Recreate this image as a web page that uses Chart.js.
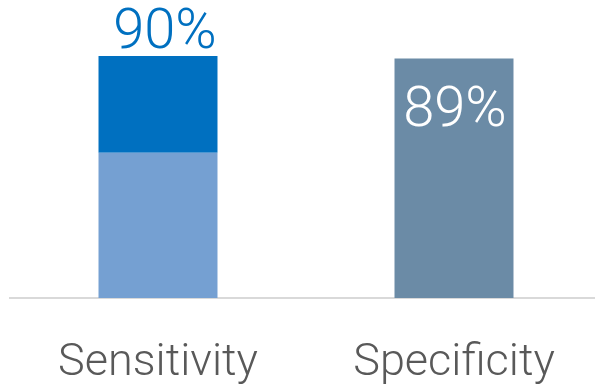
<!DOCTYPE html>
<html>
<head>
<meta charset="utf-8">
<script src="https://cdn.jsdelivr.net/npm/chart.js@4/dist/chart.umd.min.js"></script>
<style>
  html, body { margin: 0; padding: 0; background: #fff; overflow: hidden; }
  #wrap { width: 602px; height: 388px; }
</style>
</head>
<body>
<div id="wrap"><canvas id="perf"></canvas></div>
<script>
// values
const categories = ['Sensitivity', 'Specificity'];
const sensLower = [54, null];
const sensUpper = [36, null];
const specValues = [null, 89];
const valueLabels = ['90%', '89%'];

const FONT = 'Roboto, "Liberation Sans", sans-serif';

// draws the percentage above / inside the bars
const pctLabels = {
  id: 'pctLabels',
  afterDatasetsDraw(chart) {
    const ctx = chart.ctx;
    ctx.save();
    ctx.font = '300 56px ' + FONT;
    ctx.textAlign = 'center';
    ctx.textBaseline = 'alphabetic';

    const top1 = chart.getDatasetMeta(1).data[0];
    ctx.fillStyle = '#0070C0';
    ctx.fillText(valueLabels[0], top1.x + 7, top1.y - 8);

    const bar2 = chart.getDatasetMeta(2).data[1];
    ctx.fillStyle = '#ffffff';
    ctx.fillText(valueLabels[1], bar2.x + 1, bar2.y + 67);
    ctx.restore();
  }
};

new Chart(document.getElementById('perf'), {
  type: 'bar',
  data: {
    labels: categories,
    datasets: [
      { data: sensLower, backgroundColor: '#75A0D2' },
      { data: sensUpper, backgroundColor: '#0070C0' },
      { data: specValues, backgroundColor: '#6B8BA6' }
    ]
  },
  options: {
    responsive: true,
    maintainAspectRatio: false,
    animation: false,
    layout: { padding: { top: 29, left: 10, right: 0, bottom: 0 } },
    datasets: { bar: { categoryPercentage: 1, barPercentage: 0.402 } },
    plugins: { legend: { display: false }, tooltip: { enabled: false } },
    scales: {
      x: {
        stacked: true,
        grid: { display: false, drawTicks: false },
        border: { color: '#D9D9D9', width: 2 },
        ticks: { color: '#595959', font: { family: FONT, size: 45, weight: 300 }, padding: 39 },
        afterFit(scale) { scale.height = 90; }
      },
      y: {
        stacked: true,
        display: false,
        min: 0,
        max: 100
      }
    }
  },
  plugins: [pctLabels]
});
</script>
</body>
</html>
